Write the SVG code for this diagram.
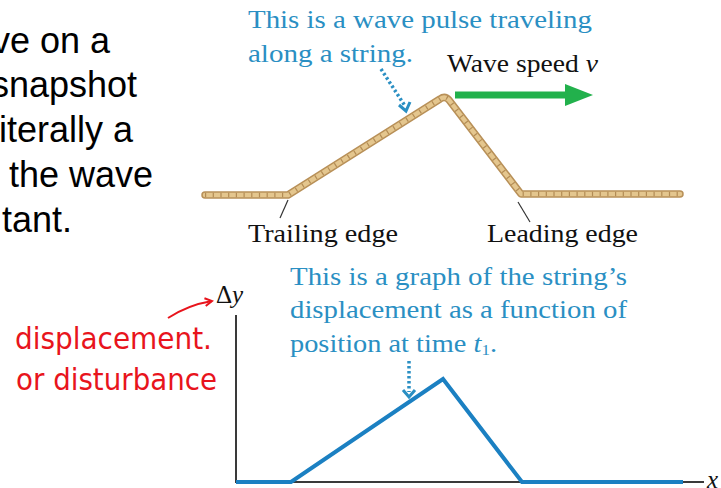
<svg xmlns="http://www.w3.org/2000/svg" width="721" height="488" viewBox="0 0 721 488">
<defs>
<style>
.body{font-family:"Liberation Sans",Arial,sans-serif;font-size:36px;fill:#000;}
.cap{font-family:"Liberation Serif","Times New Roman",serif;font-size:25px;fill:#2a8fc3;}
.lbl{font-family:"Liberation Serif","Times New Roman",serif;font-size:25px;fill:#111;}
.hand{font-family:"DejaVu Sans",sans-serif;font-size:30px;fill:#e8141c;font-weight:normal;}
.dots{fill:none;stroke:#2a8fc3;stroke-width:3.5;stroke-dasharray:2.5 2.5;}
.chev{fill:none;stroke:#2a8fc3;stroke-width:3;}
.tick{stroke:#333;stroke-width:1.2;}
</style>
<marker id="redhead" markerWidth="10" markerHeight="10" refX="8" refY="5" orient="auto" markerUnits="userSpaceOnUse">
<path d="M1,1 L8,5 L1,9" fill="none" stroke="#e8141c" stroke-width="2"/>
</marker>
</defs>

<g id="intro-text">
<text class="body" x="110" y="53" text-anchor="end">ve on a</text>
<text class="body" x="137" y="97" text-anchor="end">snapshot</text>
<text class="body" x="133" y="142" text-anchor="end">iterally a</text>
<text class="body" x="153" y="187" text-anchor="end">the wave</text>
<text class="body" x="72" y="232" text-anchor="end">tant.</text>
</g>

<g id="caption-top">
<text class="cap" x="248" y="28" textLength="344" lengthAdjust="spacingAndGlyphs">This is a wave pulse traveling</text>
<text class="cap" x="248" y="62" textLength="165" lengthAdjust="spacingAndGlyphs">along a string.</text>
</g>

<g id="wave-speed">
<text class="lbl" x="447" y="72" textLength="151" lengthAdjust="spacingAndGlyphs">Wave speed <tspan font-style="italic">v</tspan></text>
<rect x="455" y="91.5" width="112" height="7" fill="#22b14c"/>
<polygon points="565,84 593,95 565,106" fill="#22b14c"/>
</g>

<g id="string">
<path d="M205,195 L288,195 L440,99 Q445,95.5 449,100 L521,194 L680,194" fill="none" stroke="#b89058" stroke-width="7.5" stroke-linejoin="round" stroke-linecap="round"/>
<path d="M205,195 L288,195 L440,99 Q445,95.5 449,100 L521,194 L680,194" fill="none" stroke="#e4c68e" stroke-width="4.5" stroke-linejoin="round" stroke-linecap="round"/>
<path d="M205,195 L288,195 L440,99 Q445,95.5 449,100 L521,194 L680,194" fill="none" stroke="#b38c55" stroke-width="4.5" stroke-dasharray="1.2 6.5"/>
</g>

<g id="trailing-edge">
<line class="tick" x1="288" y1="200" x2="280" y2="218"/>
<text class="lbl" x="248" y="242" textLength="150" lengthAdjust="spacingAndGlyphs">Trailing edge</text>
</g>

<g id="leading-edge">
<line class="tick" x1="518" y1="202" x2="530" y2="222"/>
<text class="lbl" x="487" y="242" textLength="151" lengthAdjust="spacingAndGlyphs">Leading edge</text>
</g>

<g id="caption-bottom">
<text class="cap" x="290" y="285" textLength="337" lengthAdjust="spacingAndGlyphs">This is a graph of the string’s</text>
<text class="cap" x="290" y="318" textLength="337" lengthAdjust="spacingAndGlyphs">displacement as a function of</text>
<text class="cap" x="290" y="352" textLength="207" lengthAdjust="spacingAndGlyphs">position at time <tspan font-style="italic">t</tspan><tspan font-size="15" dy="3">1</tspan><tspan dy="-3">.</tspan></text>
</g>

<g id="graph">
<line x1="236" y1="315" x2="236" y2="483" stroke="#3a3a3a" stroke-width="2"/>
<line x1="235" y1="482" x2="704" y2="482" stroke="#3a3a3a" stroke-width="2"/>
<polyline points="236,482 291,482 443,379 522,482 683,482" fill="none" stroke="#1b80c2" stroke-width="4"/>
<text class="lbl" x="216" y="303">Δ<tspan font-style="italic">y</tspan></text>
<text class="lbl" x="707" y="488" font-style="italic">x</text>
</g>

<g id="connectors">
<path class="dots" d="M381,69 L405,106"/>
<path class="chev" d="M399,105 L406,111 L410,102"/>
<path class="dots" d="M409,361 L409,392"/>
<path class="chev" d="M403,390 L409,397 L415,390"/>
<path d="M168,318 Q188,305 212,301" fill="none" stroke="#e8141c" stroke-width="2" marker-end="url(#redhead)"/>
</g>

<g id="annotation">
<text class="hand" x="15" y="349" textLength="197" lengthAdjust="spacingAndGlyphs">displacement.</text>
<text class="hand" x="16" y="390" textLength="201" lengthAdjust="spacingAndGlyphs">or disturbance</text>
</g>
</svg>
